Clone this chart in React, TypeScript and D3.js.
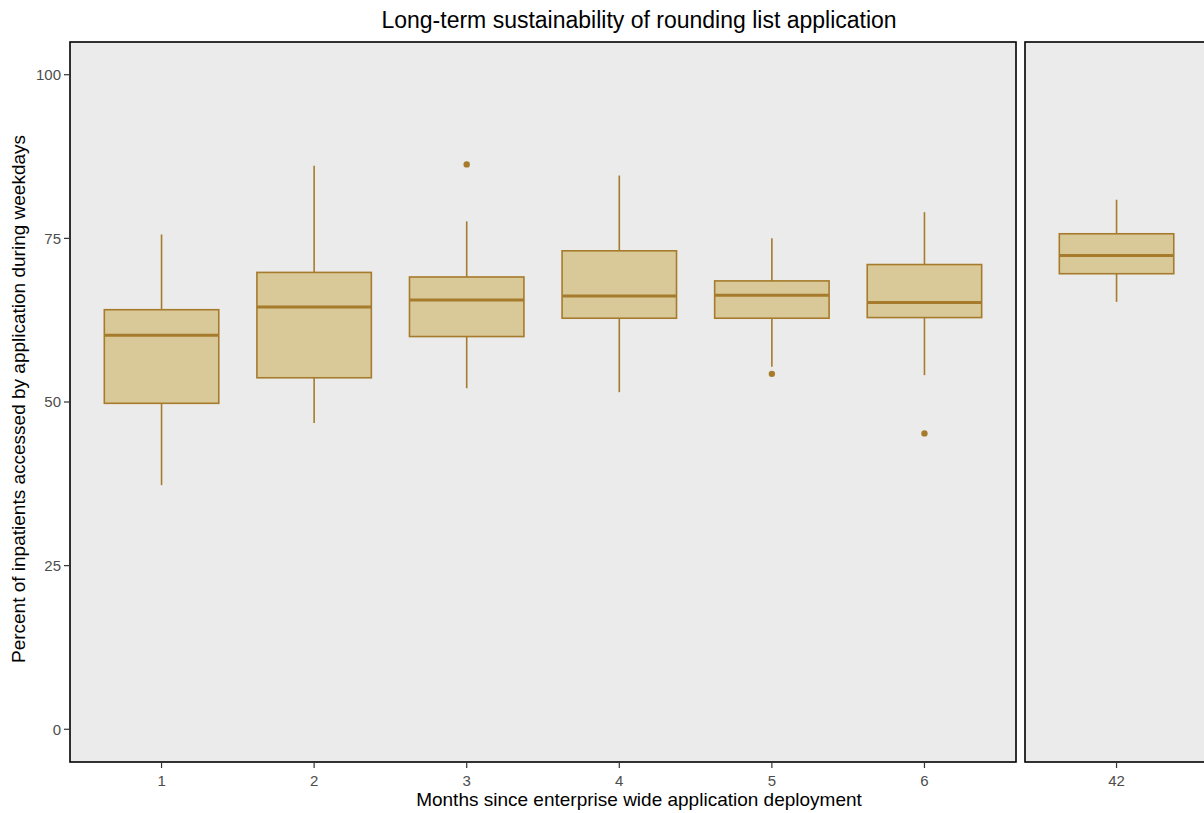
import React from "react";
import * as d3 from "d3";

const categories = ["1", "2", "3", "4", "5", "6"];
const categories2 = ["42"];
const lowerWhisker = [37.3, 46.8, 52.1, 51.5, 55.4, 54.1, 65.3];
const q1 = [49.8, 53.7, 60.0, 62.8, 62.8, 62.9, 69.6];
const median = [60.2, 64.5, 65.6, 66.2, 66.3, 65.2, 72.4];
const q3 = [64.1, 69.8, 69.1, 73.1, 68.5, 71.0, 75.7];
const upperWhisker = [75.6, 86.1, 77.6, 84.6, 75.0, 79.0, 80.9];
const outliers: number[][] = [[], [], [86.3], [], [54.3], [45.2], []];
const yTicks = [0, 25, 50, 75, 100];

const W = 1204;
const H = 813;
const top = 42;
const bottom = 762;
const left1 = 70;
const right1 = 1016;
const step = (right1 - left1) / 6.2;
const left2 = 1025;
const right2 = left2 + step * 1.2;

const fill = "#d9c999";
const stroke = "#a67b2b";

export default function App() {
  const y = d3.scaleLinear().domain([-5, 105]).range([bottom, top]);
  const x1 = d3.scalePoint().domain(categories).range([left1 + step * 0.6, right1 - step * 0.6]);
  const x2 = d3.scalePoint().domain(categories2).range([left2 + step * 0.6, right2 - step * 0.6]);
  const bw = step * 0.75;

  const allCats = [...categories, ...categories2];
  const xPos = (i: number) => (i < categories.length ? (x1(categories[i]) as number) : (x2(categories2[i - categories.length]) as number));

  const font = "Liberation Sans, Arial, sans-serif";

  return (
    <svg width={W} height={H} style={{ display: "block", position: "absolute", left: 0, top: 0 }}>
      <rect x={0} y={0} width={W} height={H} fill="white" />
      <text x={(left1 + right2) / 2} y={28} textAnchor="middle" fontFamily={font} fontSize={23} fill="black">
        Long-term sustainability of rounding list application
      </text>
      {/* panels */}
      <rect x={left1} y={top} width={right1 - left1} height={bottom - top} fill="#ebebeb" />
      <rect x={left2} y={top} width={right2 - left2} height={bottom - top} fill="#ebebeb" />
      {/* boxes */}
      {allCats.map((c, i) => {
        const cx = xPos(i);
        return (
          <g key={c}>
            <line x1={cx} x2={cx} y1={y(upperWhisker[i])} y2={y(q3[i])} stroke={stroke} strokeWidth={1.6} />
            <line x1={cx} x2={cx} y1={y(q1[i])} y2={y(lowerWhisker[i])} stroke={stroke} strokeWidth={1.6} />
            <rect
              x={cx - bw / 2}
              y={y(q3[i])}
              width={bw}
              height={y(q1[i]) - y(q3[i])}
              fill={fill}
              stroke={stroke}
              strokeWidth={1.6}
            />
            <line x1={cx - bw / 2} x2={cx + bw / 2} y1={y(median[i])} y2={y(median[i])} stroke={stroke} strokeWidth={3} />
            {outliers[i].map((o, j) => (
              <circle key={j} cx={cx} cy={y(o)} r={3.2} fill={stroke} />
            ))}
          </g>
        );
      })}
      {/* borders */}
      <rect x={left1} y={top} width={right1 - left1} height={bottom - top} fill="none" stroke="black" strokeWidth={1.6} />
      <rect x={left2} y={top} width={right2 - left2} height={bottom - top} fill="none" stroke="black" strokeWidth={1.6} />
      {/* y axis */}
      {yTicks.map((t) => (
        <g key={t}>
          <line x1={left1 - 6} x2={left1} y1={y(t)} y2={y(t)} stroke="#333" strokeWidth={1.2} />
          <text x={left1 - 9} y={y(t)} dy="0.35em" textAnchor="end" fontFamily={font} fontSize={15} fill="#4d4d4d">
            {t}
          </text>
        </g>
      ))}
      {/* x axis */}
      {allCats.map((c, i) => {
        const cx = xPos(i);
        return (
          <g key={c}>
            <line x1={cx} x2={cx} y1={bottom} y2={bottom + 6} stroke="#333" strokeWidth={1.2} />
            <text x={cx} y={786} textAnchor="middle" fontFamily={font} fontSize={15} fill="#4d4d4d">
              {c}
            </text>
          </g>
        );
      })}
      <text x={(left1 + right1) / 2 + 96} y={806} textAnchor="middle" fontFamily={font} fontSize={19} fill="black">
        Months since enterprise wide application deployment
      </text>
      <text
        transform={`translate(25, ${(top + bottom) / 2 - 3}) rotate(-90)`}
        textAnchor="middle"
        fontFamily={font}
        fontSize={19}
        fill="black"
      >
        Percent of inpatients accessed by application during weekdays
      </text>
    </svg>
  );
}
